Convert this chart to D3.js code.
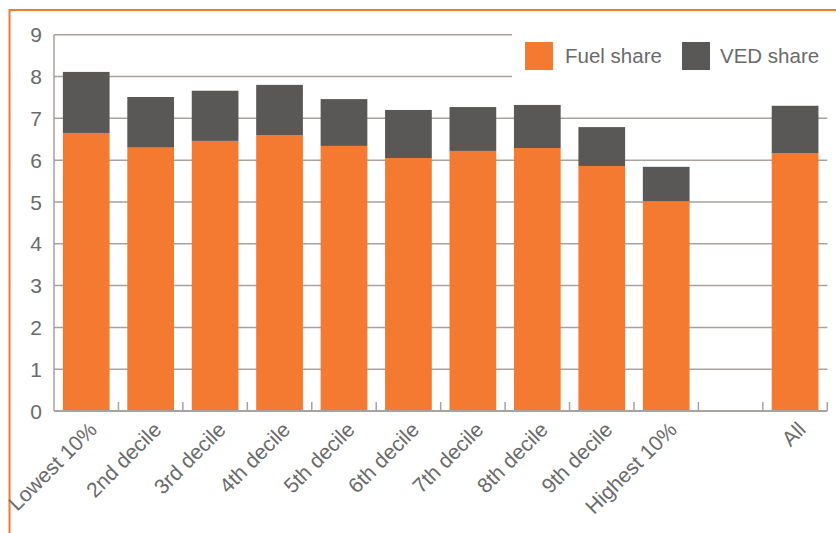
<!DOCTYPE html>
<html>
<head>
<meta charset="utf-8">
<script src="https://cdn.jsdelivr.net/npm/d3@7"></script>
<style>
  body { margin: 0; background: #fff; }
  text { font-family: "Liberation Sans", Arial, sans-serif; fill: #6a6a6a; }
</style>
</head>
<body>
<div id="chart"></div>
<script>
var categories = ["Lowest 10%", "2nd decile", "3rd decile", "4th decile", "5th decile", "6th decile",
    "7th decile", "8th decile", "9th decile", "Highest 10%", "", "All"];
var fuelShare = [6.65, 6.30, 6.46, 6.60, 6.34, 6.05, 6.22, 6.29, 5.86, 5.02, null, 6.17];
var vedShare = [1.46, 1.21, 1.20, 1.20, 1.12, 1.15, 1.05, 1.03, 0.93, 0.82, null, 1.13];
var yTicks = [0, 1, 2, 3, 4, 5, 6, 7, 8, 9];
var seriesNames = ["Fuel share", "VED share"];

var color_fuel = "#F47A32"
var color_ved = "#5A5856"
var color_grid = "#A8A19C"
var width = 836, height = 533;
var svg;

function drawChart(){
    svg = d3.select("#chart")
        .append("svg")
        .attr("width", width)
        .attr("height", height)

    //orange frame, top and left only
    svg.append("path")
        .attr("d", "M9.5,533 V10 H836")
        .attr("fill", "none")
        .attr("stroke", color_fuel)
        .attr("stroke-width", 2)

    let x = d3.scaleBand()
        .domain(d3.range(categories.length))
        .range([54, 827.3])
        .paddingInner(0.275)
        .paddingOuter(0.1375);
    let y = d3.scaleLinear().domain([0, 9]).range([411, 34.7]);

    //gridlines
    svg.selectAll("line.grid")
        .data(yTicks.filter(d => d > 0))
        .enter()
        .append("line")
        .classed("grid", true)
        .attr("x1", 54).attr("x2", 827.3)
        .attr("y1", d => y(d)).attr("y2", d => y(d))
        .attr("stroke", color_grid)
        .attr("stroke-width", 1.5)

    //y labels
    svg.selectAll("text.ytick")
        .data(yTicks)
        .enter()
        .append("text")
        .classed("ytick", true)
        .attr("x", 42)
        .attr("y", d => y(d))
        .attr("dy", "0.36em")
        .attr("text-anchor", "end")
        .style("font-size", "21px")
        .text(d => d)

    //stacked bars
    let rows = categories.map((c, i) => ({i: i, fuel: fuelShare[i], ved: vedShare[i]}))
        .filter(d => d.fuel != null);
    svg.selectAll("rect.fuel")
        .data(rows)
        .enter()
        .append("rect")
        .attr("x", d => x(d.i))
        .attr("width", x.bandwidth())
        .attr("y", d => y(d.fuel))
        .attr("height", d => y(0) - y(d.fuel))
        .attr("fill", color_fuel)
    svg.selectAll("rect.ved")
        .data(rows)
        .enter()
        .append("rect")
        .attr("x", d => x(d.i))
        .attr("width", x.bandwidth())
        .attr("y", d => y(d.fuel + d.ved))
        .attr("height", d => y(d.fuel) - y(d.fuel + d.ved))
        .attr("fill", color_ved)

    //axes lines
    svg.append("line")
        .attr("x1", 54).attr("x2", 54)
        .attr("y1", y(9)).attr("y2", y(0))
        .attr("stroke", color_grid).attr("stroke-width", 1.5)
    svg.append("line")
        .attr("x1", 54).attr("x2", 827.3)
        .attr("y1", y(0)).attr("y2", y(0))
        .attr("stroke", color_grid).attr("stroke-width", 2)

    //small ticks between categories
    let step = x.step();
    svg.selectAll("line.xtick")
        .data(d3.range(1, categories.length + 1))
        .enter()
        .append("line")
        .attr("x1", d => 54 + d * step).attr("x2", d => 54 + d * step)
        .attr("y1", y(0) - 9).attr("y2", y(0))
        .attr("stroke", color_grid).attr("stroke-width", 1.5)

    //category labels, rotated
    svg.selectAll("text.xlabel")
        .data(categories)
        .enter()
        .append("text")
        .classed("xlabel", true)
        .attr("transform", (d, i) => "translate(" + (x(i) + x.bandwidth() / 2 + 12) + "," + 431 + ") rotate(-45)")
        .attr("text-anchor", "end")
        .style("font-size", "21px")
        .text(d => d)

    //legend
    let legend = svg.append("g")
    legend.append("rect")
        .attr("x", 512).attr("y", 24)
        .attr("width", 320).attr("height", 70)
        .attr("fill", "#fff")
    let items = [{x: 525, tx: 565}, {x: 682, tx: 720}];
    seriesNames.forEach((name, i) => {
        legend.append("rect")
            .attr("x", items[i].x).attr("y", 42)
            .attr("width", 28).attr("height", 28)
            .attr("fill", i == 0 ? color_fuel : color_ved)
        legend.append("text")
            .attr("x", items[i].tx).attr("y", 63)
            .style("font-size", "20.5px")
            .text(name)
    })
}

drawChart()
</script>
</body>
</html>
